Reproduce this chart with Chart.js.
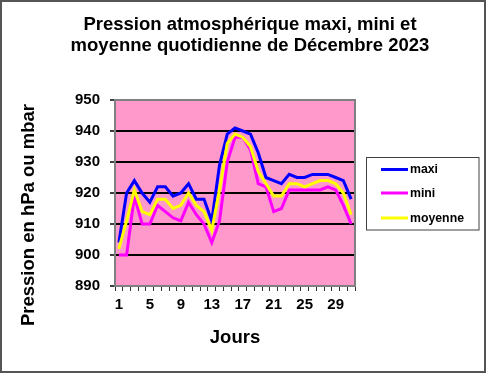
<!DOCTYPE html>
<html>
<head>
<meta charset="utf-8">
<script src="https://cdn.jsdelivr.net/npm/chart.js@4"></script>
<style>
  html, body { margin: 0; padding: 0; background: #fff; }
  canvas { display: block; }
</style>
</head>
<body>
<canvas id="c" width="486" height="373"></canvas>
<script>
const days = ['1','2','3','4','5','6','7','8','9','10','11','12','13','14','15','16','17','18','19','20','21','22','23','24','25','26','27','28','29','30','31'];
const maxi    = [904, 920, 924, 920, 917, 922, 922, 919, 920, 923, 918, 918, 911, 929, 939, 941, 940, 939, 933, 925, 924, 923, 926, 925, 925, 926, 926, 926, 925, 924, 918];
const mini    = [900, 900, 919, 910, 910, 916, 914, 912, 911, 917, 913, 910, 904, 911, 930, 938, 938, 934, 923, 922, 914, 915, 921, 921, 921, 921, 921, 922, 921, 916, 910];
const moyenne = [902, 911, 921, 914, 913, 918, 918, 915, 916, 920, 916, 914, 908, 921, 936, 939, 938, 935, 927, 923, 919, 919, 923, 923, 922, 923, 924, 924, 923, 920, 913];
const seriesNames = ['maxi', 'mini', 'moyenne'];
const titleLines = ['Pression atmosphérique maxi, mini et', 'moyenne quotidienne de Décembre 2023'];
const xTitle = 'Jours';
const yTitle = 'Pression en hPa ou mbar';
const yMin = 890, yMax = 950, yStep = 10;

const FONT = '"Liberation Sans", Arial, sans-serif';

const decor = {
  id: 'decor',
  beforeDraw(chart) {
    const { ctx, chartArea: a } = chart;
    ctx.save();
    ctx.fillStyle = '#FF99CC';
    ctx.fillRect(a.left, a.top, a.right - a.left, a.bottom - a.top);
    ctx.restore();
  },
  beforeDatasetsDraw(chart) {
    const { ctx, chartArea: a } = chart;
    ctx.save();
    ctx.strokeStyle = '#808080';
    ctx.lineWidth = 2;
    ctx.strokeRect(a.left, a.top, a.right - a.left, a.bottom - a.top);
    ctx.restore();
  },
  afterDraw(chart) {
    const { ctx, width, height } = chart;
    ctx.save();
    // outer border
    ctx.strokeStyle = '#555';
    ctx.lineWidth = 2;
    ctx.strokeRect(1, 1, width - 2, height - 2);
    // y axis title
    ctx.fillStyle = '#000';
    ctx.font = 'bold 18.5px ' + FONT;
    ctx.textAlign = 'center';
    ctx.textBaseline = 'middle';
    ctx.translate(28.6, 215);
    ctx.rotate(-Math.PI / 2);
    ctx.fillText(yTitle, 0, 0);
    ctx.restore();
    // legend
    ctx.save();
    const bx = 366.5, by = 157.5, bw = 112.5, bh = 72.5;
    ctx.strokeStyle = '#404040';
    ctx.lineWidth = 1;
    ctx.strokeRect(bx, by, bw, bh);
    const ys = [169.5, 193, 218];
    ctx.font = 'bold 12.3px ' + FONT;
    ctx.textAlign = 'left';
    ctx.textBaseline = 'middle';
    chart.data.datasets.forEach((ds, i) => {
      ctx.strokeStyle = ds.borderColor;
      ctx.lineWidth = 3;
      ctx.beginPath();
      ctx.moveTo(381, ys[i]);
      ctx.lineTo(408, ys[i]);
      ctx.stroke();
      ctx.fillStyle = '#000';
      ctx.fillText(ds.label, 410, ys[i] + 0.5);
    });
    ctx.restore();
  }
};

new Chart(document.getElementById('c'), {
  type: 'line',
  data: {
    labels: days,
    datasets: [
      { label: seriesNames[0], data: maxi, borderColor: '#0000FF', borderWidth: 3, pointRadius: 0, tension: 0, order: 2 },
      { label: seriesNames[1], data: mini, borderColor: '#FF00FF', borderWidth: 3, pointRadius: 0, tension: 0, order: 1 },
      { label: seriesNames[2], data: moyenne, borderColor: '#FFFF00', borderWidth: 3, pointRadius: 0, tension: 0, order: 0 }
    ]
  },
  options: {
    responsive: false,
    animation: false,
    devicePixelRatio: 1,
    events: [],
    layout: { padding: { left: 14, right: 0, top: 0, bottom: 0 } },
    plugins: {
      legend: { display: false },
      tooltip: { enabled: false },
      title: {
        display: true,
        text: titleLines,
        color: '#000',
        font: { family: FONT, size: 18.5, weight: 'bold', lineHeight: 1.15 },
        padding: { top: 14, bottom: 43.45 }
      }
    },
    scales: {
      x: {
        offset: true,
        border: { display: false },
        grid: { offset: true, drawOnChartArea: false, tickLength: 5, tickColor: '#333', lineWidth: 1 },
        ticks: {
          autoSkip: false, maxRotation: 0, minRotation: 0, padding: 5, color: '#000',
          font: { family: FONT, size: 15, weight: 'bold' },
          callback: (v, i) => (i % 4 === 0 ? days[i] : '')
        },
        title: {
          display: true, text: xTitle, color: '#000',
          font: { family: FONT, size: 18.5, weight: 'bold', lineHeight: 1.2 },
          padding: { top: 0, bottom: 24 }
        },
        afterFit: s => { s.height = 87; }
      },
      y: {
        min: yMin, max: yMax,
        border: { display: false },
        grid: {
          color: c => (c.tick && (c.tick.value === yMin || c.tick.value === yMax)) ? 'rgba(0,0,0,0)' : '#000',
          lineWidth: 2, tickLength: 5, tickColor: '#000', tickWidth: 1.5
        },
        ticks: { stepSize: yStep, padding: 10, color: '#000', font: { family: FONT, size: 15, weight: 'bold' } },
        afterFit: s => { s.width = 101; }
      },
      yRight: {
        type: 'linear', position: 'right', display: true,
        border: { display: false },
        grid: { display: false, drawTicks: false },
        ticks: { display: false },
        afterFit: s => { s.width = 131; }
      }
    }
  },
  plugins: [decor]
});
</script>
</body>
</html>
